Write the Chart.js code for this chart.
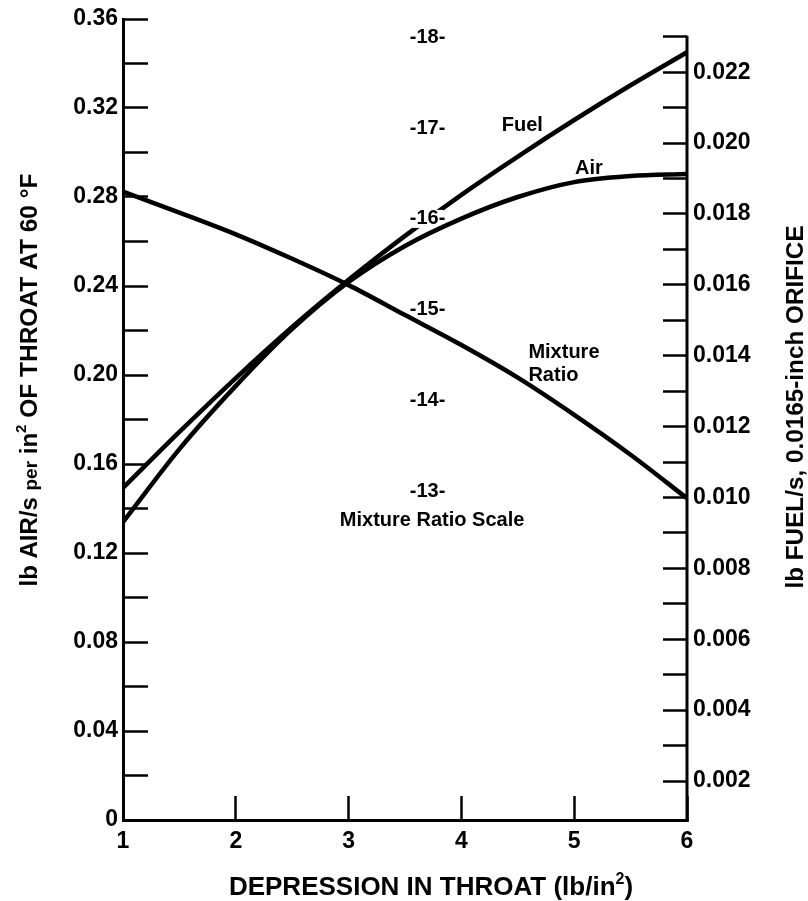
<!DOCTYPE html>
<html>
<head>
<meta charset="utf-8">
<title>Carburetor throat flow</title>
<script src="https://cdn.jsdelivr.net/npm/chart.js@4.4.1/dist/chart.umd.min.js"></script>
<style>
  html, body { margin: 0; padding: 0; background: #ffffff; }
  canvas { display: block; }
</style>
</head>
<body>
<canvas id="chart" width="808" height="901"></canvas>
<script>
// Depression in throat, lb/in^2
const depression = [1, 1.5, 2, 2.5, 3, 3.5, 4, 4.5, 5, 5.5, 6];
// lb air/s per in^2 of throat at 60 °F (left axis)
const airFlow = [0.1339, 0.1667, 0.1951, 0.2207, 0.2418, 0.2580, 0.2703, 0.2800, 0.2867, 0.2894, 0.2903];
// lb fuel/s through a 0.0165-inch orifice (right axis)
const fuelFlow = [0.01027, 0.01185, 0.01337, 0.01481, 0.01614, 0.01738, 0.01854, 0.01962, 0.02065, 0.02163, 0.02256];
// Air/fuel mixture ratio (centre scale)
const mixtureRatio = [16.30, 16.07, 15.83, 15.56, 15.27, 14.94, 14.61, 14.25, 13.84, 13.40, 12.92];

// Tick values and labels
const xTicks = [1, 2, 3, 4, 5, 6];
const airTicks = [0, 0.02, 0.04, 0.06, 0.08, 0.10, 0.12, 0.14, 0.16, 0.18, 0.20,
                  0.22, 0.24, 0.26, 0.28, 0.30, 0.32, 0.34, 0.36];
const airTickLabels = ['0', '', '0.04', '', '0.08', '', '0.12', '', '0.16', '', '0.20',
                       '', '0.24', '', '0.28', '', '0.32', '', '0.36'];
const fuelTicks = [0.002, 0.003, 0.004, 0.005, 0.006, 0.007, 0.008, 0.009, 0.010, 0.011, 0.012,
                   0.013, 0.014, 0.015, 0.016, 0.017, 0.018, 0.019, 0.020, 0.021, 0.022, 0.023];
const fuelTickLabels = ['0.002', '', '0.004', '', '0.006', '', '0.008', '', '0.010', '', '0.012',
                        '', '0.014', '', '0.016', '', '0.018', '', '0.020', '', '0.022', ''];
const ratioTicks = [13, 14, 15, 16, 17, 18];

const FONT = '"Liberation Sans", Arial, Helvetica, sans-serif';
const INK = '#000000';

function pts(ys) { return depression.map((x, i) => ({ x: x, y: ys[i] })); }
function fixedTicks(values) { return s => { s.ticks = values.map(v => ({ value: v })); }; }
// fixed axis box size, without the extra room Chart.js keeps for edge labels
function boxSize(w, h) {
  return s => {
    if (w !== null) s.width = w;
    if (h !== null) s.height = h;
    s.paddingTop = 0; s.paddingBottom = 0; s.paddingLeft = 0; s.paddingRight = 0;
  };
}

// Text pieces with mixed sizes (for superscripts and the small "per")
function drawRuns(ctx, runs, cx, baseY) {
  let total = 0;
  runs.forEach(r => { ctx.font = `bold ${r.size}px ${FONT}`; r.w = ctx.measureText(r.t).width; total += r.w; });
  let x = cx - total / 2;
  ctx.textAlign = 'left';
  ctx.textBaseline = 'alphabetic';
  runs.forEach(r => {
    ctx.font = `bold ${r.size}px ${FONT}`;
    ctx.fillText(r.t, x, baseY - (r.rise || 0));
    x += r.w;
  });
}

const annotations = {
  id: 'annotations',
  afterDatasetDraw(chart, args) {
    // clear a gap in the fuel curve behind the centre-scale numbers
    if (args.index !== 2) return;
    const { ctx } = chart;
    const xs = chart.scales.x, ym = chart.scales.yM;
    ctx.save();
    ctx.font = `bold 20px ${FONT}`;
    ctx.fillStyle = '#ffffff';
    ratioTicks.forEach(v => {
      const t = `-${v}-`;
      const w = ctx.measureText(t).width;
      const cx = xs.getPixelForValue(3.7), cy = ym.getPixelForValue(v);
      ctx.fillRect(cx - w / 2 + 2, cy - 9, w - 4, 18);
    });
    ctx.restore();
  },
  afterDraw(chart) {
    const { ctx, chartArea } = chart;
    const xs = chart.scales.x, yl = chart.scales.y, yr = chart.scales.yR, ym = chart.scales.yM;
    ctx.save();
    ctx.fillStyle = INK;
    ctx.strokeStyle = INK;

    // right-hand axis line runs from its top tick down to the base
    ctx.lineWidth = 3;
    ctx.beginPath();
    ctx.moveTo(chartArea.right, yr.getPixelForValue(fuelTicks[fuelTicks.length - 1]) - 1);
    ctx.lineTo(chartArea.right, chartArea.bottom + 1.5);
    ctx.stroke();

    // centre mixture-ratio scale
    ctx.font = `bold 20px ${FONT}`;
    ctx.textAlign = 'center';
    ctx.textBaseline = 'middle';
    ratioTicks.forEach(v => {
      ctx.fillText(`-${v}-`, xs.getPixelForValue(3.7), ym.getPixelForValue(v));
    });
    ctx.fillText('Mixture Ratio Scale', xs.getPixelForValue(3.74), yl.getPixelForValue(0.1348));

    // curve names
    ctx.fillText('Fuel', xs.getPixelForValue(4.54), yl.getPixelForValue(0.312));
    ctx.fillText('Air', xs.getPixelForValue(5.13), yl.getPixelForValue(0.2926));
    ctx.textAlign = 'left';
    ctx.fillText('Mixture', xs.getPixelForValue(4.594), yl.getPixelForValue(0.2103));
    ctx.fillText('Ratio', xs.getPixelForValue(4.594), yl.getPixelForValue(0.2000));

    // bottom axis title
    drawRuns(ctx, [
      { t: 'DEPRESSION IN THROAT (lb/in', size: 26 },
      { t: '2', size: 16, rise: 11 },
      { t: ')', size: 26 }
    ], 431, 895);

    // left axis title
    ctx.save();
    ctx.translate(37, 380);
    ctx.rotate(-Math.PI / 2);
    drawRuns(ctx, [
      { t: 'lb AIR/s ', size: 24 },
      { t: 'per', size: 19 },
      { t: ' in', size: 24 },
      { t: '2', size: 15, rise: 11 },
      { t: ' OF THROAT AT 60 \u00B0F', size: 24.5 }
    ], 0, 0);
    ctx.restore();

    // right axis title
    ctx.save();
    ctx.translate(803, 407);
    ctx.rotate(-Math.PI / 2);
    drawRuns(ctx, [{ t: 'lb FUEL/s, 0.0165-inch ORIFICE', size: 24.3 }], 0, 0);
    ctx.restore();

    ctx.restore();
  }
};

const lineStyle = {
  borderColor: INK,
  backgroundColor: INK,
  borderWidth: 4.5,
  pointRadius: 0,
  pointHoverRadius: 0,
  fill: false,
  cubicInterpolationMode: 'monotone',
  borderCapStyle: 'butt'
};

const tickFont = { family: FONT, size: 23, weight: 'bold' };

new Chart(document.getElementById('chart'), {
  type: 'line',
  data: {
    datasets: [
      Object.assign({ label: 'Air', data: pts(airFlow), yAxisID: 'y' }, lineStyle),
      Object.assign({ label: 'Mixture Ratio', data: pts(mixtureRatio), yAxisID: 'yM' }, lineStyle),
      Object.assign({ label: 'Fuel', data: pts(fuelFlow), yAxisID: 'yR' }, lineStyle)
    ]
  },
  options: {
    responsive: false,
    animation: false,
    devicePixelRatio: 1,
    events: [],
    layout: { autoPadding: false, padding: { top: 19, left: 0, right: 0, bottom: 0 } },
    plugins: { legend: { display: false }, tooltip: { enabled: false }, title: { display: false } },
    scales: {
      x: {
        type: 'linear',
        position: 'bottom',
        min: 1, max: 6,
        afterBuildTicks: fixedTicks(xTicks),
        afterFit: boxSize(null, 81),
        border: { display: true, color: INK, width: 3 },
        grid: { display: true, drawOnChartArea: false, drawTicks: true, tickLength: -24, tickColor: INK, tickWidth: 2.5 },
        ticks: { color: INK, font: tickFont, padding: 32, autoSkip: false, maxRotation: 0, callback: v => String(v) }
      },
      y: {
        type: 'linear',
        position: 'left',
        min: 0, max: 0.36,
        afterBuildTicks: fixedTicks(airTicks),
        afterFit: boxSize(123, null),
        border: { display: true, color: INK, width: 3 },
        grid: { display: true, drawOnChartArea: false, drawTicks: true, tickLength: -25, tickColor: INK, tickWidth: 2.5 },
        ticks: { color: INK, font: tickFont, padding: 30, autoSkip: false,
                 callback: (v, i) => airTickLabels[i] }
      },
      yR: {
        type: 'linear',
        position: 'right',
        min: 0.0009, max: 0.0235,
        afterBuildTicks: fixedTicks(fuelTicks),
        afterFit: boxSize(121, null),
        border: { display: false },
        grid: { display: true, drawOnChartArea: false, drawTicks: true, tickLength: -24, tickColor: INK, tickWidth: 2.5 },
        ticks: { color: INK, font: tickFont, padding: 30, autoSkip: false,
                 callback: (v, i) => fuelTickLabels[i] }
      },
      yM: {
        type: 'linear',
        display: false,
        min: 9.373, max: 18.204
      }
    }
  },
  plugins: [annotations]
});
</script>
</body>
</html>
